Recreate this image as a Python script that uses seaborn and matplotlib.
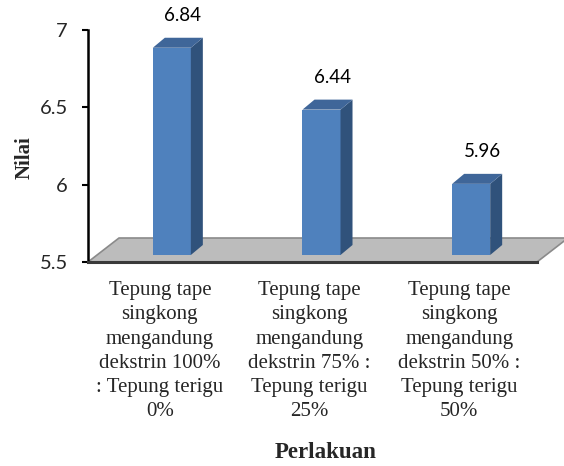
import matplotlib
matplotlib.use("Agg")
import matplotlib.pyplot as plt
import seaborn as sns
import pandas as pd
from matplotlib.patches import Polygon
from matplotlib.transforms import ScaledTranslation, IdentityTransform

# Data
categories = [
    "Tepung tape\nsingkong\nmengandung\ndekstrin 100%\n: Tepung terigu\n0%",
    "Tepung tape\nsingkong\nmengandung\ndekstrin 75% :\nTepung terigu\n25%",
    "Tepung tape\nsingkong\nmengandung\ndekstrin 50% :\nTepung terigu\n50%",
]
values = [6.84, 6.44, 5.96]
value_labels = ["6.84", "6.44", "5.96"]
y_ticks = [5.5, 6, 6.5, 7]
y_ticklabels = ["5.5", "6", "6.5", "7"]
x_title = "Perlakuan"
y_title = "Nilai"

sns.set_style("white")
plt.rcParams["font.family"] = ["Lato", "DejaVu Sans"]

W, H, DPI = 564, 466, 100
fig = plt.figure(figsize=(W / DPI, H / DPI), dpi=DPI)
ax = fig.add_axes([88 / W, (H - 262) / H, 449 / W, 232 / H])

df = pd.DataFrame({"cat": categories, "val": values})
sns.barplot(data=df, x="cat", y="val", width=0.254, color="#4F81BD",
            saturation=1, ax=ax, zorder=3)

base = y_ticks[0]
ax.set_ylim(base, y_ticks[-1])
ax.set_xlim(-0.5, len(categories) - 0.5)

# 3D look: bars sit a little behind the front edge of the floor
shift = ScaledTranslation(9 / DPI, 7 / DPI, fig.dpi_scale_trans)
depth_dx, depth_dy = 12, 10
fig.canvas.draw()
ident = IdentityTransform()
for p, v in zip(ax.patches, values):
    p.set_y(base)
    p.set_height(v - base)
    p.set_linewidth(0)
    p.set_clip_on(False)
    p.set_transform(ax.transData + shift)
    t = ax.transData + shift
    x0, x1 = p.get_x(), p.get_x() + p.get_width()
    (ax0, ay0), (ax1, ay1) = t.transform([(x0, base), (x1, v)])
    side = Polygon([(ax1, ay0), (ax1 + depth_dx, ay0 + depth_dy),
                    (ax1 + depth_dx, ay1 + depth_dy), (ax1, ay1)],
                   closed=True, facecolor="#30527B", edgecolor="none",
                   transform=ident, zorder=3)
    top = Polygon([(ax0, ay1), (ax1, ay1), (ax1 + depth_dx, ay1 + depth_dy),
                   (ax0 + depth_dx, ay1 + depth_dy)],
                  closed=True, facecolor="#3F6699", edgecolor="none",
                  transform=ident, zorder=3)
    fig.patches.append(side)
    fig.patches.append(top)
    side.set_figure(fig)
    top.set_figure(fig)

# Floor
(fx0, fy0), (fx1, _) = ax.transAxes.transform([(0, 0), (1, 0)])
floor = Polygon([(fx0, fy0), (fx1, fy0), (fx1 + 31, fy0 + 24), (fx0 + 31, fy0 + 24)],
                closed=True, facecolor="#BCBCBC", edgecolor="#8A8A8A",
                linewidth=1.2, transform=ident, zorder=1)
fig.patches.append(floor)
floor.set_figure(fig)

# Bars need to be drawn above the floor
ax.set_zorder(2)
ax.patch.set_alpha(0)

# Value labels
for i, (v, lab) in enumerate(zip(values, value_labels)):
    ax.annotate(lab, xy=(i, v), xytext=(14.5, 24.5), textcoords="offset points",
                ha="center", va="baseline", fontsize=13.5, color="black",
                annotation_clip=False)

# Axes styling
for s in ["top", "right"]:
    ax.spines[s].set_visible(False)
ax.spines["left"].set_color("black")
ax.spines["left"].set_linewidth(1.8)
ax.spines["bottom"].set_color("#3A3A3A")
ax.spines["bottom"].set_linewidth(2.2)
ax.set_yticks(y_ticks)
ax.set_yticklabels(y_ticklabels, fontsize=14.5, family=["Lato", "DejaVu Sans"])
ax.tick_params(axis="y", direction="out", length=4, width=1.5, color="black",
               pad=10.5, left=True)
ax.set_xticks(range(len(categories)))
ax.set_xticklabels(categories, fontsize=15, family=["Liberation Serif"],
                   linespacing=1.36)
ax.tick_params(axis="x", length=0, pad=14)
for lbl in ax.get_xticklabels():
    lbl.set_transform(lbl.get_transform() + ScaledTranslation(-3 / DPI, 0, fig.dpi_scale_trans))
ax.set_xlabel("")
ax.set_ylabel("")
ax.grid(False)

fig.text(25 / W, (H - 158) / H, y_title, rotation=90, ha="center", va="center",
         fontsize=15, fontweight="bold", family=["Liberation Serif"])
fig.text(326 / W, (H - 452) / H, x_title, ha="center", va="center",
         fontsize=16.5, fontweight="bold", family=["Liberation Serif"])

fig.savefig("out.png", dpi=DPI)
